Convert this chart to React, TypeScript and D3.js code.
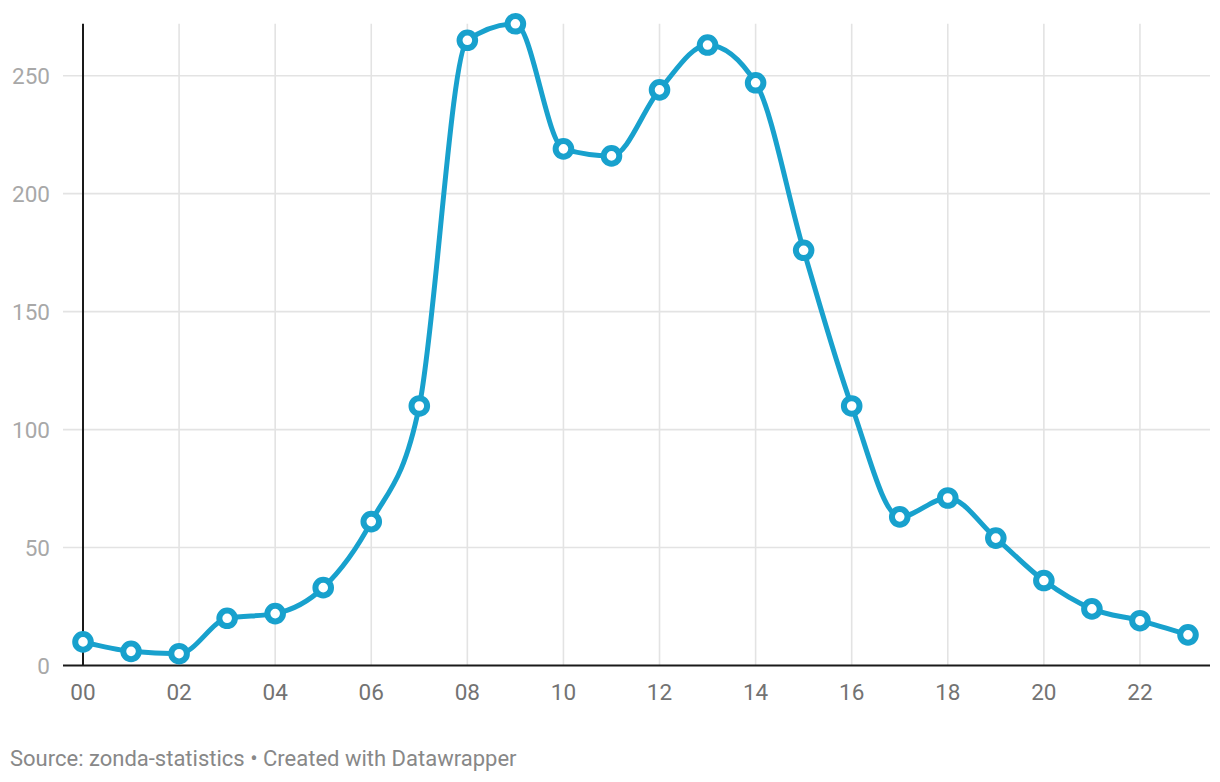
import { useMemo } from 'react';
import * as d3 from 'd3';

// hour of day labels and values
const hours: string[] = [
    '00', '01', '02', '03', '04', '05', '06', '07', '08', '09', '10', '11',
    '12', '13', '14', '15', '16', '17', '18', '19', '20', '21', '22', '23',
];
const counts: number[] = [
    10, 6, 5, 20, 22, 33, 61, 110, 265, 272, 219, 216,
    244, 263, 247, 176, 110, 63, 71, 54, 36, 24, 19, 13,
];
const yTicks: number[] = [0, 50, 100, 150, 200, 250];
const sourceText = 'Source: zonda-statistics • Created with Datawrapper';

const W = 1220;
const H = 782;
const lineColor = '#18a1cd';
const fontFamily = 'Roboto, "Noto Sans", sans-serif';

export default function App() {
    const x = useMemo(() => d3.scaleLinear().domain([0, hours.length - 1]).range([83, 1188]), []);
    const y = useMemo(() => d3.scaleLinear().domain([0, 250]).range([665.5, 75.7]), []);

    const line = d3.line<number>()
        .x((_, i) => x(i))
        .y(d => y(d))
        .curve(d3.curveMonotoneX);

    const gridTop = y(d3.max(counts)!);
    const left = 63;
    const right = 1210;

    return (
        <svg width={W} height={H} style={{ position: 'absolute', left: 0, top: 0, background: '#fff' }}
            fontFamily={fontFamily}>
            {/* horizontal grid */}
            {yTicks.filter(t => t > 0).map(t => (
                <line key={'h' + t} x1={left} x2={right} y1={y(t)} y2={y(t)} stroke="#e3e3e3" strokeWidth={1.6} />
            ))}
            {/* vertical grid at even hours */}
            {hours.map((h, i) => (i % 2 === 0 && i > 0) ? (
                <line key={'v' + h} x1={x(i)} x2={x(i)} y1={gridTop} y2={y(0)} stroke="#e3e3e3" strokeWidth={1.6} />
            ) : null)}
            {/* y labels */}
            {yTicks.map(t => (
                <text key={'yl' + t} x={50} y={y(t)} dy="0.36em" textAnchor="end" fontSize={22.5} fill="#a8a8a8">{t}</text>
            ))}
            {/* axis lines */}
            <line x1={x(0)} x2={x(0)} y1={gridTop} y2={y(0)} stroke="#1a1a1a" strokeWidth={2} />
            <line x1={left} x2={right} y1={y(0)} y2={y(0)} stroke="#1a1a1a" strokeWidth={2} />
            {/* x labels */}
            {hours.map((h, i) => i % 2 === 0 ? (
                <text key={'xl' + h} x={x(i)} y={700} textAnchor="middle" fontSize={22.5} fill="#737373">{h}</text>
            ) : null)}
            {/* line */}
            <path d={line(counts) ?? ''} fill="none" stroke={lineColor} strokeWidth={5} strokeLinejoin="round" strokeLinecap="round" />
            {counts.map((c, i) => (
                <circle key={'c' + i} cx={x(i)} cy={y(c)} r={7.8} fill="#fff" stroke={lineColor} strokeWidth={6} />
            ))}
            <text x={10} y={766} fontSize={22} fill="#888">{sourceText}</text>
        </svg>
    );
}
